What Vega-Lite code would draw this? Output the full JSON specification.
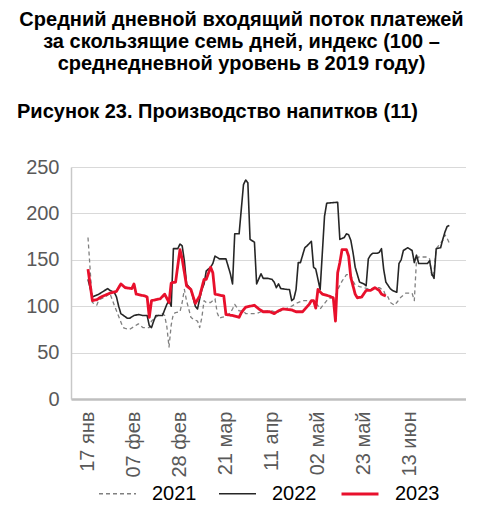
{
  "$schema": "https://vega.github.io/schema/vega-lite/v6.json",
  "padding": {"left": 17, "top": 10, "right": 0, "bottom": 0},
  "background": "white",
  "config": {
    "font": "Liberation Sans",
    "view": {"stroke": null},
    "axis": {"labelFont": "Liberation Sans", "labelFontSize": 20, "labelColor": "#595959", "ticks": false, "title": null},
    "legend": {
      "orient": "bottom", "direction": "horizontal", "title": null,
      "symbolType": "stroke", "symbolSize": 1369,
      "labelFont": "Liberation Sans", "labelFontSize": 20, "labelColor": "#000000",
      "labelOffset": 15, "columnPadding": 18, "offset": -4,
      "layout": {"bottom": {"anchor": "middle"}}
    }
  },
  "title": {
    "text": ["Средний дневной входящий поток платежей", "за скользящие семь дней, индекс (100 –", "среднедневной уровень в 2019 году)"],
    "anchor": "middle", "font": "Liberation Sans", "fontSize": 20, "fontWeight": "bold", "color": "#000000",
    "lineHeight": 22, "offset": 28
  },
  "vconcat": [
    {
      "width": 395,
      "height": 232,
      "title": {
        "text": "Рисунок 23. Производство напитков (11)",
        "anchor": "start", "frame": "group", "dx": -54,
        "font": "Liberation Sans", "fontSize": 20, "fontWeight": "bold", "color": "#000000", "offset": 35
      },
      "data": {
        "values": [
          {"date": "2023-01-17", "year": "2021", "v": 174},
          {"date": "2023-01-19", "year": "2021", "v": 104},
          {"date": "2023-01-21", "year": "2021", "v": 101},
          {"date": "2023-01-22", "year": "2021", "v": 107},
          {"date": "2023-01-25", "year": "2021", "v": 110},
          {"date": "2023-01-27", "year": "2021", "v": 114},
          {"date": "2023-01-29", "year": "2021", "v": 101},
          {"date": "2023-01-30", "year": "2021", "v": 95},
          {"date": "2023-02-01", "year": "2021", "v": 83},
          {"date": "2023-02-02", "year": "2021", "v": 77},
          {"date": "2023-02-03", "year": "2021", "v": 76},
          {"date": "2023-02-05", "year": "2021", "v": 75},
          {"date": "2023-02-07", "year": "2021", "v": 78},
          {"date": "2023-02-09", "year": "2021", "v": 81},
          {"date": "2023-02-11", "year": "2021", "v": 77},
          {"date": "2023-02-14", "year": "2021", "v": 77},
          {"date": "2023-02-15", "year": "2021", "v": 84},
          {"date": "2023-02-17", "year": "2021", "v": 88},
          {"date": "2023-02-18", "year": "2021", "v": 90},
          {"date": "2023-02-20", "year": "2021", "v": 92},
          {"date": "2023-02-21", "year": "2021", "v": 90},
          {"date": "2023-02-22", "year": "2021", "v": 78},
          {"date": "2023-02-23", "year": "2021", "v": 56},
          {"date": "2023-02-24", "year": "2021", "v": 80},
          {"date": "2023-02-25", "year": "2021", "v": 92},
          {"date": "2023-02-26", "year": "2021", "v": 93},
          {"date": "2023-02-28", "year": "2021", "v": 94},
          {"date": "2023-03-01", "year": "2021", "v": 104},
          {"date": "2023-03-02", "year": "2021", "v": 118},
          {"date": "2023-03-03", "year": "2021", "v": 106},
          {"date": "2023-03-05", "year": "2021", "v": 88},
          {"date": "2023-03-06", "year": "2021", "v": 86},
          {"date": "2023-03-08", "year": "2021", "v": 84},
          {"date": "2023-03-09", "year": "2021", "v": 77},
          {"date": "2023-03-10", "year": "2021", "v": 88},
          {"date": "2023-03-11", "year": "2021", "v": 106},
          {"date": "2023-03-12", "year": "2021", "v": 104},
          {"date": "2023-03-14", "year": "2021", "v": 104},
          {"date": "2023-03-16", "year": "2021", "v": 108},
          {"date": "2023-03-17", "year": "2021", "v": 93},
          {"date": "2023-03-18", "year": "2021", "v": 87},
          {"date": "2023-03-19", "year": "2021", "v": 88},
          {"date": "2023-03-21", "year": "2021", "v": 89},
          {"date": "2023-03-23", "year": "2021", "v": 93},
          {"date": "2023-03-24", "year": "2021", "v": 97},
          {"date": "2023-03-25", "year": "2021", "v": 102},
          {"date": "2023-03-27", "year": "2021", "v": 95},
          {"date": "2023-03-29", "year": "2021", "v": 95},
          {"date": "2023-03-30", "year": "2021", "v": 92},
          {"date": "2023-04-02", "year": "2021", "v": 92},
          {"date": "2023-04-04", "year": "2021", "v": 92},
          {"date": "2023-04-06", "year": "2021", "v": 94},
          {"date": "2023-04-09", "year": "2021", "v": 95},
          {"date": "2023-04-11", "year": "2021", "v": 95},
          {"date": "2023-04-13", "year": "2021", "v": 93},
          {"date": "2023-04-15", "year": "2021", "v": 95},
          {"date": "2023-04-18", "year": "2021", "v": 98},
          {"date": "2023-04-20", "year": "2021", "v": 100},
          {"date": "2023-04-22", "year": "2021", "v": 103},
          {"date": "2023-04-25", "year": "2021", "v": 106},
          {"date": "2023-04-27", "year": "2021", "v": 106},
          {"date": "2023-04-29", "year": "2021", "v": 106},
          {"date": "2023-05-01", "year": "2021", "v": 104},
          {"date": "2023-05-03", "year": "2021", "v": 97},
          {"date": "2023-05-04", "year": "2021", "v": 100},
          {"date": "2023-05-06", "year": "2021", "v": 106},
          {"date": "2023-05-07", "year": "2021", "v": 108},
          {"date": "2023-05-10", "year": "2021", "v": 111},
          {"date": "2023-05-11", "year": "2021", "v": 118},
          {"date": "2023-05-13", "year": "2021", "v": 127},
          {"date": "2023-05-15", "year": "2021", "v": 134},
          {"date": "2023-05-17", "year": "2021", "v": 134},
          {"date": "2023-05-18", "year": "2021", "v": 127},
          {"date": "2023-05-19", "year": "2021", "v": 123},
          {"date": "2023-05-21", "year": "2021", "v": 121},
          {"date": "2023-05-23", "year": "2021", "v": 120},
          {"date": "2023-05-26", "year": "2021", "v": 118},
          {"date": "2023-05-28", "year": "2021", "v": 120},
          {"date": "2023-05-30", "year": "2021", "v": 120},
          {"date": "2023-06-01", "year": "2021", "v": 117},
          {"date": "2023-06-02", "year": "2021", "v": 111},
          {"date": "2023-06-03", "year": "2021", "v": 110},
          {"date": "2023-06-04", "year": "2021", "v": 104},
          {"date": "2023-06-06", "year": "2021", "v": 101},
          {"date": "2023-06-07", "year": "2021", "v": 104},
          {"date": "2023-06-09", "year": "2021", "v": 110},
          {"date": "2023-06-11", "year": "2021", "v": 114},
          {"date": "2023-06-13", "year": "2021", "v": 114},
          {"date": "2023-06-14", "year": "2021", "v": 114},
          {"date": "2023-06-15", "year": "2021", "v": 106},
          {"date": "2023-06-16", "year": "2021", "v": 150},
          {"date": "2023-06-17", "year": "2021", "v": 153},
          {"date": "2023-06-19", "year": "2021", "v": 153},
          {"date": "2023-06-21", "year": "2021", "v": 153},
          {"date": "2023-06-22", "year": "2021", "v": 151},
          {"date": "2023-06-23", "year": "2021", "v": 131},
          {"date": "2023-06-24", "year": "2021", "v": 138},
          {"date": "2023-06-25", "year": "2021", "v": 162},
          {"date": "2023-06-26", "year": "2021", "v": 165},
          {"date": "2023-06-28", "year": "2021", "v": 171},
          {"date": "2023-06-29", "year": "2021", "v": 177},
          {"date": "2023-06-30", "year": "2021", "v": 173},
          {"date": "2023-07-01", "year": "2021", "v": 168},

          {"date": "2023-01-17", "year": "2022", "v": 129},
          {"date": "2023-01-19", "year": "2022", "v": 110},
          {"date": "2023-01-20", "year": "2022", "v": 111},
          {"date": "2023-01-22", "year": "2022", "v": 113},
          {"date": "2023-01-24", "year": "2022", "v": 116},
          {"date": "2023-01-26", "year": "2022", "v": 119},
          {"date": "2023-01-27", "year": "2022", "v": 117},
          {"date": "2023-01-29", "year": "2022", "v": 115},
          {"date": "2023-01-30", "year": "2022", "v": 110},
          {"date": "2023-01-31", "year": "2022", "v": 100},
          {"date": "2023-02-01", "year": "2022", "v": 92},
          {"date": "2023-02-04", "year": "2022", "v": 87},
          {"date": "2023-02-05", "year": "2022", "v": 87},
          {"date": "2023-02-07", "year": "2022", "v": 90},
          {"date": "2023-02-09", "year": "2022", "v": 91},
          {"date": "2023-02-11", "year": "2022", "v": 90},
          {"date": "2023-02-13", "year": "2022", "v": 90},
          {"date": "2023-02-14", "year": "2022", "v": 79},
          {"date": "2023-02-15", "year": "2022", "v": 77},
          {"date": "2023-02-16", "year": "2022", "v": 84},
          {"date": "2023-02-17", "year": "2022", "v": 90},
          {"date": "2023-02-20", "year": "2022", "v": 90},
          {"date": "2023-02-22", "year": "2022", "v": 102},
          {"date": "2023-02-23", "year": "2022", "v": 106},
          {"date": "2023-02-24", "year": "2022", "v": 100},
          {"date": "2023-02-25", "year": "2022", "v": 162},
          {"date": "2023-02-27", "year": "2022", "v": 162},
          {"date": "2023-02-28", "year": "2022", "v": 167},
          {"date": "2023-03-01", "year": "2022", "v": 165},
          {"date": "2023-03-02", "year": "2022", "v": 149},
          {"date": "2023-03-03", "year": "2022", "v": 124},
          {"date": "2023-03-05", "year": "2022", "v": 118},
          {"date": "2023-03-06", "year": "2022", "v": 109},
          {"date": "2023-03-07", "year": "2022", "v": 100},
          {"date": "2023-03-08", "year": "2022", "v": 97},
          {"date": "2023-03-09", "year": "2022", "v": 108},
          {"date": "2023-03-10", "year": "2022", "v": 118},
          {"date": "2023-03-11", "year": "2022", "v": 124},
          {"date": "2023-03-12", "year": "2022", "v": 138},
          {"date": "2023-03-14", "year": "2022", "v": 142},
          {"date": "2023-03-15", "year": "2022", "v": 146},
          {"date": "2023-03-16", "year": "2022", "v": 154},
          {"date": "2023-03-18", "year": "2022", "v": 151},
          {"date": "2023-03-21", "year": "2022", "v": 151},
          {"date": "2023-03-23", "year": "2022", "v": 135},
          {"date": "2023-03-24", "year": "2022", "v": 124},
          {"date": "2023-03-25", "year": "2022", "v": 178},
          {"date": "2023-03-27", "year": "2022", "v": 178},
          {"date": "2023-03-29", "year": "2022", "v": 231},
          {"date": "2023-03-30", "year": "2022", "v": 236},
          {"date": "2023-03-31", "year": "2022", "v": 233},
          {"date": "2023-04-01", "year": "2022", "v": 172},
          {"date": "2023-04-03", "year": "2022", "v": 169},
          {"date": "2023-04-04", "year": "2022", "v": 124},
          {"date": "2023-04-06", "year": "2022", "v": 135},
          {"date": "2023-04-07", "year": "2022", "v": 130},
          {"date": "2023-04-09", "year": "2022", "v": 130},
          {"date": "2023-04-11", "year": "2022", "v": 129},
          {"date": "2023-04-12", "year": "2022", "v": 126},
          {"date": "2023-04-13", "year": "2022", "v": 120},
          {"date": "2023-04-14", "year": "2022", "v": 124},
          {"date": "2023-04-15", "year": "2022", "v": 119},
          {"date": "2023-04-18", "year": "2022", "v": 118},
          {"date": "2023-04-19", "year": "2022", "v": 118},
          {"date": "2023-04-20", "year": "2022", "v": 106},
          {"date": "2023-04-21", "year": "2022", "v": 108},
          {"date": "2023-04-22", "year": "2022", "v": 118},
          {"date": "2023-04-23", "year": "2022", "v": 147},
          {"date": "2023-04-24", "year": "2022", "v": 147},
          {"date": "2023-04-26", "year": "2022", "v": 163},
          {"date": "2023-04-27", "year": "2022", "v": 165},
          {"date": "2023-04-29", "year": "2022", "v": 170},
          {"date": "2023-04-30", "year": "2022", "v": 142},
          {"date": "2023-05-01", "year": "2022", "v": 140},
          {"date": "2023-05-03", "year": "2022", "v": 118},
          {"date": "2023-05-05", "year": "2022", "v": 197},
          {"date": "2023-05-06", "year": "2022", "v": 211},
          {"date": "2023-05-11", "year": "2022", "v": 212},
          {"date": "2023-05-12", "year": "2022", "v": 172},
          {"date": "2023-05-14", "year": "2022", "v": 174},
          {"date": "2023-05-15", "year": "2022", "v": 178},
          {"date": "2023-05-16", "year": "2022", "v": 177},
          {"date": "2023-05-17", "year": "2022", "v": 171},
          {"date": "2023-05-18", "year": "2022", "v": 158},
          {"date": "2023-05-19", "year": "2022", "v": 142},
          {"date": "2023-05-21", "year": "2022", "v": 126},
          {"date": "2023-05-23", "year": "2022", "v": 124},
          {"date": "2023-05-24", "year": "2022", "v": 122},
          {"date": "2023-05-25", "year": "2022", "v": 151},
          {"date": "2023-05-26", "year": "2022", "v": 155},
          {"date": "2023-05-27", "year": "2022", "v": 157},
          {"date": "2023-05-29", "year": "2022", "v": 157},
          {"date": "2023-05-30", "year": "2022", "v": 158},
          {"date": "2023-05-31", "year": "2022", "v": 162},
          {"date": "2023-06-01", "year": "2022", "v": 140},
          {"date": "2023-06-02", "year": "2022", "v": 126},
          {"date": "2023-06-04", "year": "2022", "v": 119},
          {"date": "2023-06-05", "year": "2022", "v": 117},
          {"date": "2023-06-07", "year": "2022", "v": 115},
          {"date": "2023-06-08", "year": "2022", "v": 146},
          {"date": "2023-06-09", "year": "2022", "v": 150},
          {"date": "2023-06-10", "year": "2022", "v": 160},
          {"date": "2023-06-12", "year": "2022", "v": 163},
          {"date": "2023-06-14", "year": "2022", "v": 160},
          {"date": "2023-06-15", "year": "2022", "v": 147},
          {"date": "2023-06-16", "year": "2022", "v": 155},
          {"date": "2023-06-17", "year": "2022", "v": 146},
          {"date": "2023-06-21", "year": "2022", "v": 146},
          {"date": "2023-06-22", "year": "2022", "v": 149},
          {"date": "2023-06-23", "year": "2022", "v": 135},
          {"date": "2023-06-24", "year": "2022", "v": 130},
          {"date": "2023-06-25", "year": "2022", "v": 162},
          {"date": "2023-06-27", "year": "2022", "v": 163},
          {"date": "2023-06-28", "year": "2022", "v": 172},
          {"date": "2023-06-29", "year": "2022", "v": 180},
          {"date": "2023-06-30", "year": "2022", "v": 186},
          {"date": "2023-07-01", "year": "2022", "v": 187},

          {"date": "2023-01-17", "year": "2023", "v": 140},
          {"date": "2023-01-19", "year": "2023", "v": 106},
          {"date": "2023-01-21", "year": "2023", "v": 107},
          {"date": "2023-01-23", "year": "2023", "v": 110},
          {"date": "2023-01-25", "year": "2023", "v": 112},
          {"date": "2023-01-27", "year": "2023", "v": 114},
          {"date": "2023-01-30", "year": "2023", "v": 116},
          {"date": "2023-02-01", "year": "2023", "v": 124},
          {"date": "2023-02-03", "year": "2023", "v": 120},
          {"date": "2023-02-06", "year": "2023", "v": 119},
          {"date": "2023-02-07", "year": "2023", "v": 124},
          {"date": "2023-02-08", "year": "2023", "v": 113},
          {"date": "2023-02-12", "year": "2023", "v": 111},
          {"date": "2023-02-13", "year": "2023", "v": 110},
          {"date": "2023-02-14", "year": "2023", "v": 88},
          {"date": "2023-02-15", "year": "2023", "v": 106},
          {"date": "2023-02-17", "year": "2023", "v": 107},
          {"date": "2023-02-19", "year": "2023", "v": 108},
          {"date": "2023-02-21", "year": "2023", "v": 113},
          {"date": "2023-02-23", "year": "2023", "v": 104},
          {"date": "2023-02-24", "year": "2023", "v": 125},
          {"date": "2023-02-26", "year": "2023", "v": 126},
          {"date": "2023-02-28", "year": "2023", "v": 161},
          {"date": "2023-03-01", "year": "2023", "v": 151},
          {"date": "2023-03-03", "year": "2023", "v": 122},
          {"date": "2023-03-05", "year": "2023", "v": 118},
          {"date": "2023-03-07", "year": "2023", "v": 103},
          {"date": "2023-03-09", "year": "2023", "v": 111},
          {"date": "2023-03-11", "year": "2023", "v": 129},
          {"date": "2023-03-12", "year": "2023", "v": 129},
          {"date": "2023-03-14", "year": "2023", "v": 142},
          {"date": "2023-03-15", "year": "2023", "v": 136},
          {"date": "2023-03-16", "year": "2023", "v": 113},
          {"date": "2023-03-20", "year": "2023", "v": 111},
          {"date": "2023-03-21", "year": "2023", "v": 91},
          {"date": "2023-03-24", "year": "2023", "v": 90},
          {"date": "2023-03-27", "year": "2023", "v": 88},
          {"date": "2023-03-28", "year": "2023", "v": 93},
          {"date": "2023-03-30", "year": "2023", "v": 99},
          {"date": "2023-04-03", "year": "2023", "v": 101},
          {"date": "2023-04-05", "year": "2023", "v": 97},
          {"date": "2023-04-07", "year": "2023", "v": 94},
          {"date": "2023-04-10", "year": "2023", "v": 94},
          {"date": "2023-04-12", "year": "2023", "v": 92},
          {"date": "2023-04-14", "year": "2023", "v": 95},
          {"date": "2023-04-16", "year": "2023", "v": 97},
          {"date": "2023-04-20", "year": "2023", "v": 96},
          {"date": "2023-04-22", "year": "2023", "v": 94},
          {"date": "2023-04-25", "year": "2023", "v": 94},
          {"date": "2023-04-28", "year": "2023", "v": 102},
          {"date": "2023-04-29", "year": "2023", "v": 106},
          {"date": "2023-04-30", "year": "2023", "v": 106},
          {"date": "2023-05-01", "year": "2023", "v": 98},
          {"date": "2023-05-02", "year": "2023", "v": 118},
          {"date": "2023-05-04", "year": "2023", "v": 113},
          {"date": "2023-05-07", "year": "2023", "v": 111},
          {"date": "2023-05-09", "year": "2023", "v": 109},
          {"date": "2023-05-10", "year": "2023", "v": 84},
          {"date": "2023-05-11", "year": "2023", "v": 136},
          {"date": "2023-05-12", "year": "2023", "v": 147},
          {"date": "2023-05-13", "year": "2023", "v": 161},
          {"date": "2023-05-15", "year": "2023", "v": 161},
          {"date": "2023-05-16", "year": "2023", "v": 154},
          {"date": "2023-05-17", "year": "2023", "v": 131},
          {"date": "2023-05-19", "year": "2023", "v": 113},
          {"date": "2023-05-20", "year": "2023", "v": 109},
          {"date": "2023-05-22", "year": "2023", "v": 110},
          {"date": "2023-05-24", "year": "2023", "v": 117},
          {"date": "2023-05-26", "year": "2023", "v": 117},
          {"date": "2023-05-28", "year": "2023", "v": 120},
          {"date": "2023-05-30", "year": "2023", "v": 117},
          {"date": "2023-05-31", "year": "2023", "v": 113},
          {"date": "2023-06-02", "year": "2023", "v": 111}
        ]
      },
      "mark": {"type": "line", "strokeJoin": "round", "strokeCap": "butt"},
      "encoding": {
        "x": {
          "field": "date", "type": "temporal",
          "scale": {
            "type": "utc",
            "domain": [
              {"year": 2023, "month": 1, "date": 9, "hours": 5, "minutes": 45, "utc": true},
              {"year": 2023, "month": 7, "date": 8, "hours": 14, "minutes": 24, "utc": true}
            ]
          },
          "axis": {
            "values": [
              {"year": 2023, "month": 1, "date": 17, "utc": true},
              {"year": 2023, "month": 2, "date": 7, "utc": true},
              {"year": 2023, "month": 2, "date": 28, "utc": true},
              {"year": 2023, "month": 3, "date": 21, "utc": true},
              {"year": 2023, "month": 4, "date": 11, "utc": true},
              {"year": 2023, "month": 5, "date": 2, "utc": true},
              {"year": 2023, "month": 5, "date": 23, "utc": true},
              {"year": 2023, "month": 6, "date": 13, "utc": true}
            ],
            "labelExpr": "utcFormat(datum.value, '%d') + ' ' + ['янв','фев','мар','апр','май','июн','июл'][utcmonth(datum.value)]",
            "labelAngle": -90, "labelPadding": 12, "grid": false,
            "domainColor": "#bfbfbf", "domainWidth": 2.5, "labelOverlap": false
          }
        },
        "y": {
          "field": "v", "type": "quantitative",
          "scale": {"domain": [0, 250], "nice": false},
          "axis": {
            "values": [0, 50, 100, 150, 200, 250], "labelPadding": 12,
            "grid": true, "gridColor": "#d9d9d9", "gridWidth": 1.2,
            "domainColor": "#c8c8c8", "domainWidth": 1.5
          }
        },
        "color": {
          "field": "year", "type": "nominal",
          "scale": {"domain": ["2021", "2022", "2023"], "range": ["#808080", "#262626", "#e8102c"]}
        },
        "strokeDash": {
          "field": "year", "type": "nominal",
          "scale": {"domain": ["2021", "2022", "2023"], "range": [[4, 3], [1, 0], [1, 0]]}
        },
        "strokeWidth": {
          "field": "year", "type": "nominal",
          "scale": {"type": "ordinal", "domain": ["2021", "2022", "2023"], "range": [1.3, 1.6, 2.8]}
        }
      }
    }
  ]
}
